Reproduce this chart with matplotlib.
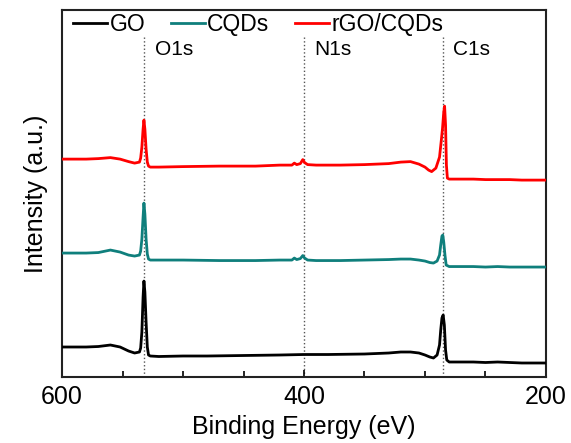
import matplotlib
matplotlib.use("Agg")
import matplotlib.pyplot as plt

plt.rcParams['font.family'] = ['Liberation Sans', 'DejaVu Sans']

# XPS survey spectra, binding energy (eV) vs intensity (a.u.)
go_ev = [600, 590, 580, 570, 560, 552, 545, 540, 536, 535,
         534, 533, 532.3, 531.5, 530.5, 529.5, 528.5, 527, 520, 500,
         480, 450, 420, 400, 380, 350, 330, 320, 312, 305,
         300, 296, 293, 290, 288, 287, 286, 285, 284, 283,
         282, 280, 270, 260, 250, 240, 230, 220, 210, 200]
go_int = [30, 30, 30, 30.5, 32, 30, 26, 24, 25, 29,
          45, 80, 96, 85, 55, 30, 22, 21, 20.5, 21,
          21, 21.5, 22, 22.5, 22.5, 23, 24, 25, 25, 24,
          22, 20, 19, 22, 32, 47, 59, 62, 52, 27,
          17, 15, 15, 15, 14.5, 15, 14.5, 14, 14, 14]

cqd_ev = [600, 590, 580, 570, 560, 552, 545, 540, 536, 535,
          534, 533, 532.3, 531.5, 530.5, 529.5, 528.5, 527, 520, 500,
          470, 440, 420, 410, 408, 406, 403, 401, 399.5, 397,
          390, 370, 350, 330, 320, 312, 305, 300, 296, 293,
          290, 288, 287, 286, 285.3, 284.5, 283.5, 282.5, 280, 270,
          260, 250, 240, 230, 220, 210, 200]
cqd_int = [124, 124, 124, 124.5, 127, 125, 122, 121, 122, 126,
           138, 160, 174, 163, 138, 123, 118, 117, 117, 117,
           116.5, 116.5, 117, 117, 119, 117.5, 118.5, 121.5, 119, 117,
           116.5, 116.5, 117, 117.5, 118, 118, 117, 116, 114.5, 114,
           116, 122, 132, 141, 142, 135, 122, 112, 110.5, 110.5,
           110.5, 110, 110.5, 110, 110, 110, 110]

rgo_ev = [600, 590, 580, 570, 560, 552, 545, 540, 536, 535,
          534, 533, 532.3, 531.5, 530.5, 529.5, 528.5, 527, 520, 500,
          470, 440, 420, 410, 408, 406, 403, 401, 399.5, 397,
          390, 370, 350, 330, 320, 312, 305, 300, 297, 294.5,
          291, 288, 286.5, 285.5, 284.5, 283.8, 283, 282.3, 281.5, 280,
          270, 260, 250, 240, 230, 220, 210, 200]
rgo_int = [218, 218, 218, 218.5, 219.5, 218, 215.5, 214, 215, 219,
           230, 248, 257, 248, 228, 215, 211, 210, 210, 210.5,
           211, 211, 212, 212, 214, 212.5, 213.5, 217.5, 214.5, 212.5,
           212, 212, 212.5, 213.5, 215, 215.5, 213, 210, 207, 205.5,
           209, 220, 237, 249, 265, 271, 252, 212, 199, 198,
           198, 198, 197.5, 197.5, 197.5, 197, 197, 197]

peak_names = ['O1s', 'N1s', 'C1s']
peak_pos = [532, 400, 285.5]

fig = plt.figure(figsize=(5.71, 4.43), dpi=100)
ax = fig.add_axes([0.1086, 0.149, 0.8476, 0.828])

for p, name in zip(peak_pos, peak_names):
    ax.plot([p, p], [0, 342], ls=':', color='#555555', lw=1.0, zorder=1)
    ax.text(p - 8.5, 328, name, fontsize=15, va='center', ha='left')

ax.plot(go_ev, go_int, color='black', lw=2.0, label='GO', zorder=3)
ax.plot(cqd_ev, cqd_int, color='#0f7f7c', lw=2.0, label='CQDs', zorder=3)
ax.plot(rgo_ev, rgo_int, color='#ff0000', lw=2.0, label='rGO/CQDs', zorder=3)

ax.set_xlim(600, 200)
ax.set_ylim(0, 367)
ax.set_xticks([600, 400, 200])
ax.set_xticks([550, 500, 450, 350, 300, 250], minor=True)
ax.set_yticks([])
ax.tick_params(axis='x', which='both', direction='in', labelsize=18, pad=6)
ax.tick_params(axis='x', which='major', length=5, width=1.2)
ax.tick_params(axis='x', which='minor', length=4, width=1.2)
for s in ax.spines.values():
    s.set_linewidth(1.5)
    s.set_color('#222222')

ax.set_xlabel('Binding Energy (eV)', fontsize=18, labelpad=4)
ax.set_ylabel('Intensity (a.u.)', fontsize=18, labelpad=10)

ax.legend(loc='center left', bbox_to_anchor=(0.0227, 0.96), ncol=3,
          frameon=False, fontsize=16.5, handlelength=1.5, handletextpad=0.1,
          columnspacing=1.1, borderaxespad=0, borderpad=0)

fig.savefig('out.png', dpi=100)
